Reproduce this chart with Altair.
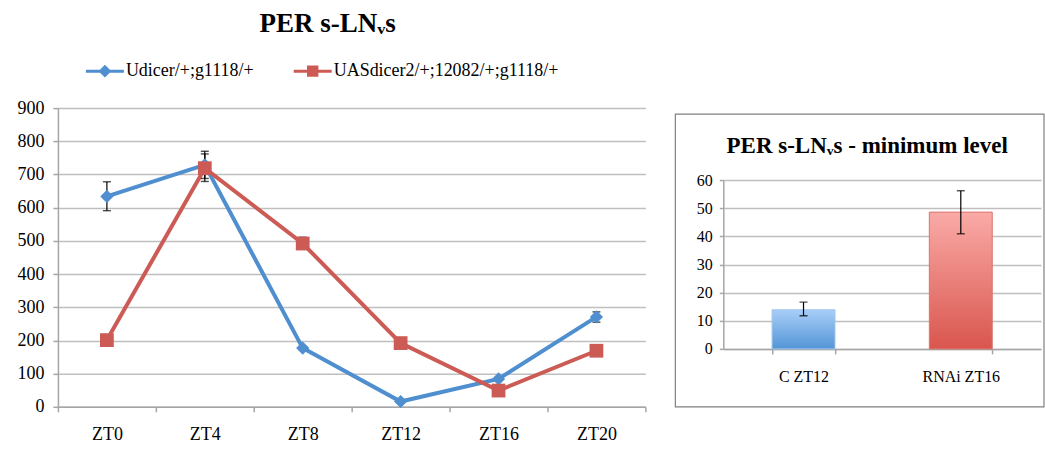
import altair as alt
import pandas as pd

# ---------------- data ----------------
times = ["ZT0", "ZT4", "ZT8", "ZT12", "ZT16", "ZT20"]
series_names = ["Udicer/+;g1118/+", "UASdicer2/+;12082/+;g1118/+"]

ctrl_mean = [634, 729, 177, 16, 84, 271]
ctrl_lo = [591, 688, 172, 12, 79, 255]
ctrl_hi = [678, 770, 182, 20, 89, 286]

rnai_mean = [201, 719, 492, 192, 49, 169]
rnai_lo = [196, 679, 477, 187, 44, 164]
rnai_hi = [206, 762, 511, 197, 54, 174]

bar_labels = ["C ZT12", "RNAi ZT16"]
bar_values = [13.9, 48.6]
bar_lo = [11.8, 40.9]
bar_hi = [16.6, 56.2]

y_ticks_left = [0, 100, 200, 300, 400, 500, 600, 700, 800, 900]
y_ticks_right = [0, 10, 20, 30, 40, 50, 60]

main_title = "PER s-LN\u1d65s"
side_title = "PER s-LN\u1d65s - minimum level"

# ---------------- styling ----------------
FONT = "Liberation Serif"
BLUE = "#4F8FCF"
RED = "#CD5B55"
GRID = "#BFBFBF"
AXIS = "#A6A6A6"

df = pd.DataFrame({
    "time": times * 2,
    "series": [series_names[0]] * len(times) + [series_names[1]] * len(times),
    "value": ctrl_mean + rnai_mean,
    "lo": ctrl_lo + rnai_lo,
    "hi": ctrl_hi + rnai_hi,
})

# legend glyphs: a filled bar (the line) plus the marker, all filled
diamond_path = "M-1,-0.08H1V0.08H-1ZM0,-0.34L0.34,0L0,0.34L-0.34,0Z"
square_path = "M-1,-0.08H1V0.08H-1ZM-0.3,-0.3H0.3V0.3H-0.3Z"

color_scale = alt.Scale(domain=series_names, range=[BLUE, RED])
shape_scale = alt.Scale(domain=series_names, range=[diamond_path, square_path])

x_scale_l = alt.Scale(type="band", paddingInner=0, paddingOuter=0)
x_axis_l = alt.Axis(title=None, labelAngle=0, tickBand="extent", grid=False, labelPadding=14, tickSize=5)
y_scale_l = alt.Scale(domain=[0, 900])
y_axis_l = alt.Axis(title=None, values=y_ticks_left, labelPadding=9, tickSize=5)


def xl():
    return alt.X("time:N", sort=times, bandPosition=0.5, scale=x_scale_l, axis=x_axis_l)


def yl(field):
    return alt.Y(field, scale=y_scale_l, axis=y_axis_l)


legend = alt.Legend(
    orient="none", legendX=28, legendY=-56, direction="horizontal", title=None,
    labelFont=FONT, labelFontSize=18, labelColor="black", labelLimit=400, symbolSize=1444,
    symbolOpacity=1, symbolStrokeWidth=0, labelOffset=2, columnPadding=40,
)

legend_layer = alt.Chart(df).mark_point(filled=True, opacity=0, size=10).encode(
    x=xl(), y=yl("value:Q"),
    color=alt.Color("series:N", scale=color_scale, legend=legend),
    shape=alt.Shape("series:N", scale=shape_scale, legend=legend),
)
lines = alt.Chart(df).mark_line(strokeWidth=4).encode(
    x=xl(), y=yl("value:Q"),
    color=alt.Color("series:N", scale=color_scale, legend=legend),
)
err_rule = alt.Chart(df).mark_rule(color="black", strokeWidth=1.2).encode(
    x=xl(), y=yl("lo:Q"), y2="hi:Q",
)
err_lo = alt.Chart(df).mark_tick(color="black", size=8, thickness=1.4, orient="horizontal").encode(
    x=xl(), y=yl("lo:Q"),
)
err_hi = alt.Chart(df).mark_tick(color="black", size=8, thickness=1.4, orient="horizontal").encode(
    x=xl(), y=yl("hi:Q"),
)
pts_ctrl = alt.Chart(df).transform_filter(alt.datum.series == series_names[0]).mark_point(
    filled=True, size=175, opacity=1, shape="diamond", color=BLUE
).encode(x=xl(), y=yl("value:Q"))
pts_rnai = alt.Chart(df).transform_filter(alt.datum.series == series_names[1]).mark_point(
    filled=True, size=190, opacity=1, shape="square", color=RED
).encode(x=xl(), y=yl("value:Q"))

title_left = alt.Chart(pd.DataFrame({"t": [main_title]})).mark_text(
    font=FONT, fontSize=27, fontWeight="bold", align="center", baseline="alphabetic", color="black"
).encode(text="t:N", x=alt.value(270), y=alt.value(-76))

left = alt.layer(legend_layer, lines, err_rule, err_lo, err_hi, pts_ctrl, pts_rnai, title_left).properties(
    width=588, height=299)

# ---------------- right panel ----------------
bar_df = pd.DataFrame({"group": bar_labels, "value": bar_values, "lo": bar_lo, "hi": bar_hi})

x_scale_r = alt.Scale(range=[48, 366], paddingInner=0.6, paddingOuter=0.31)
x_axis_r = alt.Axis(title=None, labelAngle=0, offset=-58, tickBand="extent", grid=False,
                    labelFontSize=16, labelPadding=15, tickSize=5)
y_scale_r = alt.Scale(domain=[0, 60], range=[241, 72])
y_axis_r = alt.Axis(title=None, values=y_ticks_right, offset=-48, labelFontSize=16,
                    labelPadding=7, tickSize=4)


def xr():
    return alt.X("group:N", sort=bar_labels, scale=x_scale_r, axis=x_axis_r)


def yr(field):
    return alt.Y(field, scale=y_scale_r, axis=y_axis_r)


blue_grad = alt.Gradient(gradient="linear", x1=0, x2=0, y1=0, y2=1, stops=[
    alt.GradientStop(color="#A8CEF8", offset=0), alt.GradientStop(color="#5395D6", offset=1)])
red_grad = alt.Gradient(gradient="linear", x1=0, x2=0, y1=0, y2=1, stops=[
    alt.GradientStop(color="#FAAAA7", offset=0), alt.GradientStop(color="#D9564E", offset=1)])

frame = alt.Chart(pd.DataFrame({"f": [0]})).mark_rect(
    fillOpacity=0, stroke="#808080", strokeWidth=1.2
).encode(x=alt.value(0), x2=alt.value(369), y=alt.value(6), y2=alt.value(299))

bar_c = alt.Chart(bar_df).transform_filter(alt.datum.group == bar_labels[0]).mark_bar(
    color=blue_grad, stroke="#9FC4EE", strokeWidth=1
).encode(x=xr(), y=yr("value:Q"))
bar_r = alt.Chart(bar_df).transform_filter(alt.datum.group == bar_labels[1]).mark_bar(
    color=red_grad, stroke="#D9736E", strokeWidth=1
).encode(x=xr(), y=yr("value:Q"))

bar_rule = alt.Chart(bar_df).mark_rule(color="black", strokeWidth=1.2).encode(
    x=xr(), y=yr("lo:Q"), y2="hi:Q")
bar_tlo = alt.Chart(bar_df).mark_tick(color="black", size=8, thickness=1.4, orient="horizontal").encode(
    x=xr(), y=yr("lo:Q"))
bar_thi = alt.Chart(bar_df).mark_tick(color="black", size=8, thickness=1.4, orient="horizontal").encode(
    x=xr(), y=yr("hi:Q"))

title_right = alt.Chart(pd.DataFrame({"t": [side_title]})).mark_text(
    font=FONT, fontSize=23, fontWeight="bold", align="center", baseline="alphabetic", color="black"
).encode(text="t:N", x=alt.value(192), y=alt.value(45))

right = alt.layer(bar_c, bar_r, bar_rule, bar_tlo, bar_thi, title_right, frame).properties(width=369, height=299)

chart = alt.hconcat(left, right, spacing=30, bounds="flush").properties(
    padding={"left": 17, "top": 10, "right": 0, "bottom": 5}, background="white"
).configure_view(stroke=None).configure_axis(
    labelFont=FONT, labelFontSize=18, labelColor="black",
    domainColor=AXIS, domainWidth=1.5, tickColor=AXIS, tickWidth=1.5,
    gridColor=GRID, gridWidth=1.5,
)

chart.save("out.html", embed_options={"renderer": "svg", "actions": False})
